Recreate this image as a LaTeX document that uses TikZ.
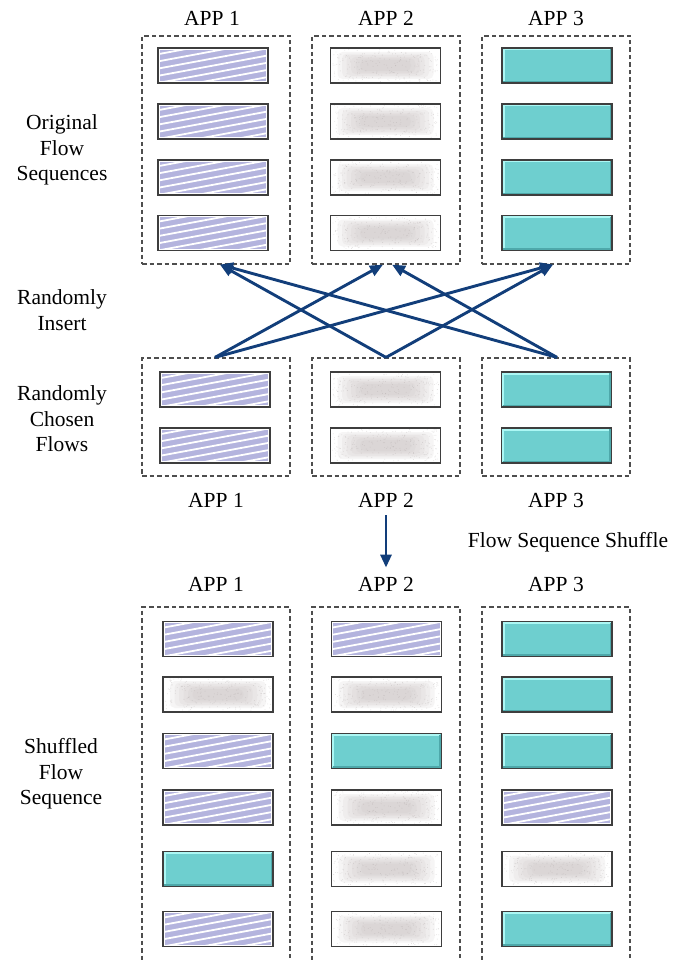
\documentclass[tikz,border=0pt]{standalone}
\usepackage{fontspec}
\setmainfont{Liberation Serif}
\usetikzlibrary{arrows.meta}

\definecolor{lav}{RGB}{180,180,222}
\definecolor{speck}{RGB}{200,192,192}
\definecolor{tealbody}{RGB}{110,207,207}
\definecolor{teallite}{RGB}{172,247,244}
\definecolor{tealdark}{RGB}{78,168,170}
\definecolor{edge}{RGB}{62,62,62}
\definecolor{navy}{RGB}{18,62,122}
\definecolor{dashgray}{RGB}{78,78,78}

\tikzset{
  flow/.style={draw=edge, line width=1.3pt, minimum width=110pt,
    minimum height=35pt, inner sep=0pt},
  % lavender tile with white diagonal stripes
  hatched/.style={flow, fill=white, path picture={
    \fill[lav] ([shift={(1.8pt,1.8pt)}]path picture bounding box.south west)
      rectangle ([shift={(-1.8pt,-1.8pt)}]path picture bounding box.north east);
    \foreach \k in {-4,...,6}{
      \draw[white, line width=1.8pt]
        ([yshift=\k*7.2pt]path picture bounding box.south west) -- ++(10.5:130pt);
    }
  }},
  % white tile with a soft grey speckled core
  noisy/.style={flow, fill=white, path picture={
    \foreach \k in {0,...,5}{
      \fill[speck, opacity=0.15, rounded corners=5pt]
        ([shift={({(-48+4.5*\k)*1pt},{(-13.5+1.6*\k)*1pt})}]path picture bounding box.center)
        rectangle
        ([shift={({(48-4.5*\k)*1pt},{(13.5-1.6*\k)*1pt})}]path picture bounding box.center);
    }
    \foreach \i in {1,...,220}{
      \fill[speck!85!black, opacity=0.35]
        ([shift={({rand*53pt},{rand*16pt})}]path picture bounding box.center) circle (0.45pt);
    }
  }},
  % bevelled teal tile
  glossy/.style={flow, fill=tealbody, path picture={
    \draw[teallite, line width=2.6pt]
      ([shift={(1.2pt,1.2pt)}]path picture bounding box.south west)
      -- ([shift={(1.2pt,-1.2pt)}]path picture bounding box.north west)
      -- ([shift={(-1.2pt,-1.2pt)}]path picture bounding box.north east);
    \draw[tealdark, line width=2pt]
      ([shift={(1.2pt,1.2pt)}]path picture bounding box.south west)
      -- ([shift={(-1.2pt,1.2pt)}]path picture bounding box.south east)
      -- ([shift={(-1.2pt,-1.2pt)}]path picture bounding box.north east);
  }},
  group/.style={draw=dashgray, line width=1.2pt, dash pattern=on 4.5pt off 3pt,
    minimum width=148pt, inner sep=0pt},
  lbl/.style={font=\fontsize{21.5}{25.5}\selectfont, align=center, inner sep=0pt},
  insert/.style={draw=navy, line width=2.9pt,
    -{Triangle[length=13pt,width=11pt]}},
}

\begin{document}
\begin{tikzpicture}[x=1pt,y=-1pt]
\pgfmathsetseed{11}
\useasboundingbox (0,0) rectangle (672,960);
\begin{scope}
\clip (0,0) rectangle (672,960);

% ---- original flow sequences ----
\node[group, minimum height=228pt] (ob1) at (216,150) {};
\node[group, minimum height=228pt] (ob2) at (386,150) {};
\node[group, minimum height=228pt] (ob3) at (556,150) {};
\foreach \r/\y in {1/65.5,2/121.5,3/177.5,4/233}{
  \node[hatched] (o1\r) at (213,\y) {};
  \node[noisy]   (o2\r) at (385.5,\y) {};
  \node[glossy]  (o3\r) at (557,\y) {};
}

% ---- randomly chosen flows ----
\node[group, minimum height=118pt] (mb1) at (216,417) {};
\node[group, minimum height=118pt] (mb2) at (386,417) {};
\node[group, minimum height=118pt] (mb3) at (556,417) {};
\foreach \r/\y in {1/389.5,2/445.5}{
  \node[hatched] (m1\r) at (215,\y) {};
  \node[noisy]   (m2\r) at (385.5,\y) {};
  \node[glossy]  (m3\r) at (556.5,\y) {};
}

% ---- shuffled flow sequence ----
\node[group, minimum height=383pt] (sb1) at (216,798.5) {};
\node[group, minimum height=383pt] (sb2) at (386,798.5) {};
\node[group, minimum height=383pt] (sb3) at (556,798.5) {};

\node[hatched] (s11) at (218,639) {};
\node[noisy]   (s12) at (218,694.5) {};
\node[hatched] (s13) at (218,751) {};
\node[hatched] (s14) at (218,807.5) {};
\node[glossy]  (s15) at (218,869) {};
\node[hatched] (s16) at (218,929) {};

\node[hatched] (s21) at (386.5,639) {};
\node[noisy]   (s22) at (386.5,694.5) {};
\node[glossy]  (s23) at (386.5,751) {};
\node[noisy]   (s24) at (386.5,807.5) {};
\node[noisy]   (s25) at (386.5,869) {};
\node[noisy]   (s26) at (386.5,929) {};

\node[glossy]  (s31) at (557,639) {};
\node[glossy]  (s32) at (557,694.5) {};
\node[glossy]  (s33) at (557,751) {};
\node[hatched] (s34) at (557,807.5) {};
\node[noisy]   (s35) at (557,869) {};
\node[glossy]  (s36) at (557,929) {};
\end{scope}

% ---- labels ----
\node[lbl, anchor=base] (ta1) at (212,26) {APP 1};
\node[lbl, anchor=base] (ta2) at (386,26) {APP 2};
\node[lbl, anchor=base] (ta3) at (556,26) {APP 3};

\node[lbl, anchor=base] (ma1) at (216,507) {APP 1};
\node[lbl, anchor=base] (ma2) at (386,507) {APP 2};
\node[lbl, anchor=base] (ma3) at (556,507) {APP 3};

\node[lbl, anchor=base] (ba1) at (216,591) {APP 1};
\node[lbl, anchor=base] (ba2) at (386,591) {APP 2};
\node[lbl, anchor=base] (ba3) at (556,591) {APP 3};

\node[lbl, anchor=base] (shuf) at (568,547) {Flow Sequence Shuffle};

\node[lbl] (lorig) at (62,150) {Original\\Flow\\Sequences};
\node[lbl] (lins)  at (62,310) {Randomly\\Insert};
\node[lbl] (lcho)  at (62,419) {Randomly\\Chosen\\Flows};
\node[lbl] (lshu)  at (61,774) {Shuffled\\Flow\\Sequence};

% ---- random insertion of chosen flows ----
\draw[insert] ([xshift=-1pt]mb1.north) -- ([xshift=-3pt]ob2.south);
\draw[insert] ([xshift=-1pt]mb1.north) -- ([xshift=-3pt]ob3.south);
\draw[insert] (mb2.north) -- ([xshift=4pt]ob1.south);
\draw[insert] (mb2.north) -- ([xshift=-3pt]ob3.south);
\draw[insert] ([xshift=1pt]mb3.north) -- ([xshift=4pt]ob1.south);
\draw[insert] ([xshift=1pt]mb3.north) -- ([xshift=6pt]ob2.south);

% ---- shuffle step ----
\draw[insert] ([yshift=-8pt]ma2.south) -- ([yshift=9pt]ba2.north);
\end{tikzpicture}
\end{document}
